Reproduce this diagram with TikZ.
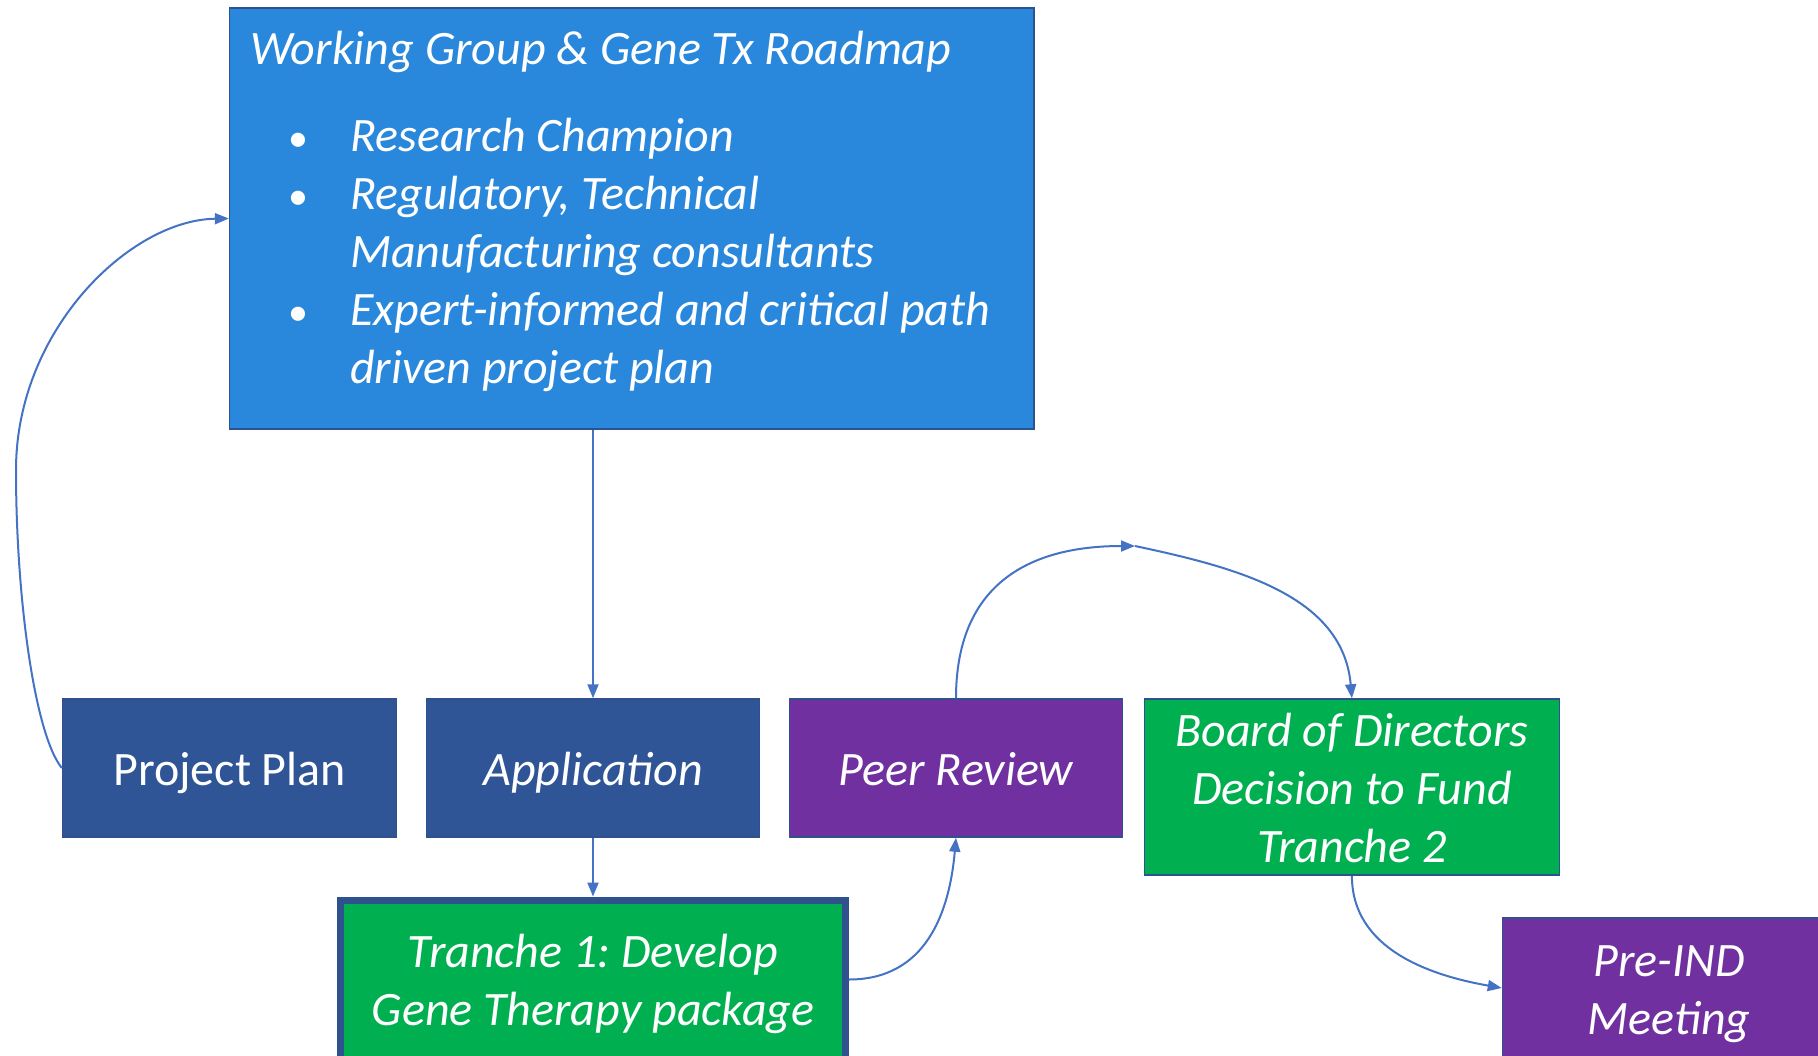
\documentclass[tikz,border=0pt]{standalone}
\usepackage{fontspec}
\setmainfont{Carlito}
\usetikzlibrary{arrows.meta}
\definecolor{wgblue}{HTML}{2988DC}
\definecolor{dblue}{HTML}{2F5597}
\definecolor{purp}{HTML}{7030A0}
\definecolor{grn}{HTML}{00B050}
\definecolor{bordc}{HTML}{2F528F}
\definecolor{arrc}{HTML}{4472C4}
\newcommand{\ms}{\rule[-11pt]{0pt}{56pt}}
\newcommand{\blt}{\hspace*{48pt}\makebox[0pt]{\fontsize{40}{58}\selectfont\upshape •}\hspace*{52pt}}
\frenchspacing
\begin{document}
\begin{tikzpicture}[x=1pt,y=1pt,
  box/.style={draw=bordc, line width=1.5pt, text=white, align=center, inner sep=0pt,
    font=\fontsize{48}{58}\selectfont\itshape\frenchspacing},
  arr/.style={draw=arrc, line width=2pt, -{Triangle[length=14pt,width=11pt]}}]
\useasboundingbox (0,0) rectangle (1818,-1055);
% main box
\node[box, fill=wgblue, minimum width=804.6pt, minimum height=421pt] (wg) at (631.9,-218.5) {};
\node[anchor=base west, text width=770pt, inner sep=0pt, text=white, align=left,
  font=\fontsize{48}{58}\selectfont\itshape\frenchspacing] (wgtext) at (250,-64.5)
  {\spaceskip=0pt\xspaceskip=0pt\relax
   Working Group \& Gene Tx Roadmap\par\vspace{29pt}%
   \blt Research Champion\par
   \blt Regulatory, Technical\par
   \hspace*{100pt}Manufacturing consultants\par
   \blt Expert-informed and critical path\par
   \hspace*{100pt}driven project plan\par};
% row boxes
\node[box, fill=dblue, minimum width=334pt, minimum height=138pt,
  font=\fontsize{48}{58}\selectfont\upshape] (pp) at (229.6,-768) {\ms Project Plan};
\node[box, fill=dblue, minimum width=333pt, minimum height=138pt] (app) at (593,-768) {\ms Application};
\node[box, fill=purp, minimum width=333pt, minimum height=138pt] (peer) at (956,-768) {\ms Peer Review};
\node[box, fill=grn, minimum width=415pt, minimum height=176pt] (board) at (1351.9,-787)
  {\ms Board of Directors\\\ms Decision to Fund\\\ms Tranche 2};
\node[box, fill=grn, line width=7pt, minimum width=505pt, minimum height=159pt] (tranche) at (593,-979.5)
  {\ms Tranche 1:\ Develop\\\ms Gene Therapy package};
\node[box, fill=purp, minimum width=333pt, minimum height=140pt] (pre) at (1669,-988)
  {\ms Pre-IND\\\ms Meeting};
% connectors
\coordinate (m1) at (16,-470);
\coordinate (ptop) at (1135,-546);
\draw[arr] (wg.south -| app.north) -- (app.north);
\draw[arr] (app.south) -- (tranche.north);
\draw[arr] (pp.west) .. controls (35,-735) and (16,-600) .. (m1)
  .. controls (16,-330) and (130,-220) .. (wg.west);
\draw[arr] (tranche.east) to[out=0,in=-95,looseness=1.1] (peer.south);
\draw[arr] (peer.north) to[out=90,in=180,looseness=1.2] (ptop);
\draw[arr] (ptop) to[out=-12,in=95] (board.north);
\draw[arr] (board.south) to[out=-90,in=170] (pre.west);
\end{tikzpicture}
\end{document}
